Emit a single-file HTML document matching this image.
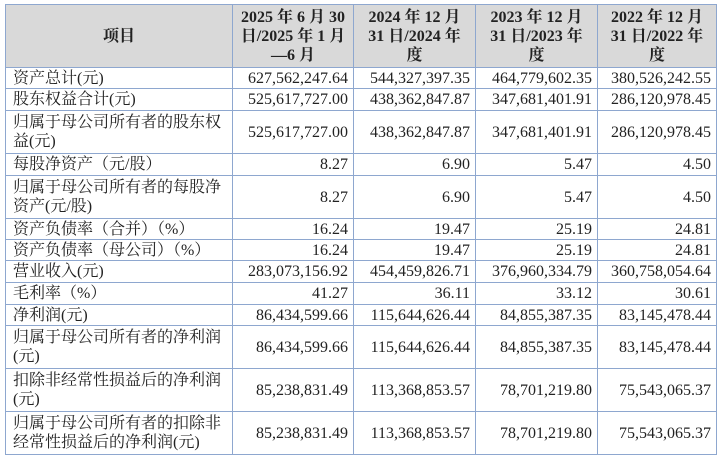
<!DOCTYPE html>
<html><head><meta charset="utf-8"><style>
body{margin:0;background:#fff;width:719px;height:458px;overflow:hidden}
table{position:absolute;left:5px;top:4px;border-collapse:collapse;table-layout:fixed;font-family:"Liberation Serif","Noto Serif CJK SC",serif;font-size:16px;color:#222}
td,th{border:1px solid #8ea7cf;padding:0 5px;line-height:19px;overflow:hidden}
th{background:#d9d9d9;font-weight:bold;text-align:center;line-height:19px;padding:0 2px}
td.l{text-align:left;padding-left:7px;padding-right:2px}
td.n{text-align:right;white-space:nowrap}
</style></head><body>
<table>
<colgroup><col style="width:227px"><col style="width:121px"><col style="width:122px"><col style="width:122px"><col style="width:119px"></colgroup>
<tr style="height:63px"><th>项目</th><th>2025 年 6 月 30<br>日/2025 年 1 月<br>—6 月</th><th>2024 年 12 月<br>31 日/2024 年<br>度</th><th>2023 年 12 月<br>31 日/2023 年<br>度</th><th>2022 年 12 月<br>31 日/2022 年<br>度</th></tr>
<tr style="height:21px"><td class="l">资产总计(元)</td><td class="n">627,562,247.64</td><td class="n">544,327,397.35</td><td class="n">464,779,602.35</td><td class="n">380,526,242.55</td></tr>
<tr style="height:22px"><td class="l">股东权益合计(元)</td><td class="n">525,617,727.00</td><td class="n">438,362,847.87</td><td class="n">347,681,401.91</td><td class="n">286,120,978.45</td></tr>
<tr style="height:43px"><td class="l">归属于母公司所有者的股东权<br>益(元)</td><td class="n">525,617,727.00</td><td class="n">438,362,847.87</td><td class="n">347,681,401.91</td><td class="n">286,120,978.45</td></tr>
<tr style="height:22px"><td class="l">每股净资产（元/股）</td><td class="n">8.27</td><td class="n">6.90</td><td class="n">5.47</td><td class="n">4.50</td></tr>
<tr style="height:43px"><td class="l">归属于母公司所有者的每股净<br>资产(元/股)</td><td class="n">8.27</td><td class="n">6.90</td><td class="n">5.47</td><td class="n">4.50</td></tr>
<tr style="height:21px"><td class="l">资产负债率（合并）（%）</td><td class="n">16.24</td><td class="n">19.47</td><td class="n">25.19</td><td class="n">24.81</td></tr>
<tr style="height:21px"><td class="l">资产负债率（母公司）（%）</td><td class="n">16.24</td><td class="n">19.47</td><td class="n">25.19</td><td class="n">24.81</td></tr>
<tr style="height:22px"><td class="l">营业收入(元)</td><td class="n">283,073,156.92</td><td class="n">454,459,826.71</td><td class="n">376,960,334.79</td><td class="n">360,758,054.64</td></tr>
<tr style="height:22px"><td class="l">毛利率（%）</td><td class="n">41.27</td><td class="n">36.11</td><td class="n">33.12</td><td class="n">30.61</td></tr>
<tr style="height:21px"><td class="l">净利润(元)</td><td class="n">86,434,599.66</td><td class="n">115,644,626.44</td><td class="n">84,855,387.35</td><td class="n">83,145,478.44</td></tr>
<tr style="height:43px"><td class="l">归属于母公司所有者的净利润<br>(元)</td><td class="n">86,434,599.66</td><td class="n">115,644,626.44</td><td class="n">84,855,387.35</td><td class="n">83,145,478.44</td></tr>
<tr style="height:43px"><td class="l">扣除非经常性损益后的净利润<br>(元)</td><td class="n">85,238,831.49</td><td class="n">113,368,853.57</td><td class="n">78,701,219.80</td><td class="n">75,543,065.37</td></tr>
<tr style="height:43px"><td class="l">归属于母公司所有者的扣除非<br>经常性损益后的净利润(元)</td><td class="n">85,238,831.49</td><td class="n">113,368,853.57</td><td class="n">78,701,219.80</td><td class="n">75,543,065.37</td></tr>
</table>
</body></html>
